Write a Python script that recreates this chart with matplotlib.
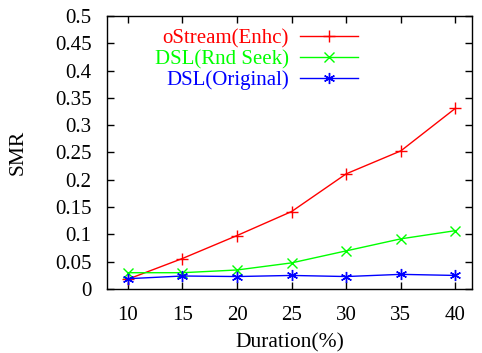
import matplotlib
matplotlib.use("Agg")
import matplotlib.pyplot as plt

# datos
duration = [10, 15, 20, 25, 30, 35, 40]
ostream_enhc = [0.018, 0.056, 0.098, 0.142, 0.211, 0.253, 0.331]
dsl_rnd_seek = [0.030, 0.030, 0.035, 0.048, 0.070, 0.092, 0.107]
dsl_original = [0.019, 0.024, 0.023, 0.025, 0.023, 0.027, 0.025]

yticks = [0, 0.05, 0.1, 0.15, 0.2, 0.25, 0.3, 0.35, 0.4, 0.45, 0.5]
ytick_labels = ["0", "0.05", "0.1", "0.15", "0.2", "0.25", "0.3", "0.35", "0.4", "0.45", "0.5"]

plt.rcParams["font.family"] = "Liberation Serif"

fig = plt.figure(figsize=(4.82, 3.53), dpi=100)
ax = fig.add_axes([0.222, 0.181, 0.757, 0.774])

ax.plot(duration, ostream_enhc, color="#ff0000", lw=1, marker="+", ms=8, mew=1, label="oStream(Enhc)")
ax.plot(duration, dsl_rnd_seek, color="#00ff00", lw=1, marker="x", ms=7, mew=1, label="DSL(Rnd Seek)")
ax.plot(duration, dsl_original, color="#0000ff", lw=1, marker=(6, 2, 0), ms=8, mew=1, label="DSL(Original)")

ax.set_xlim(8.1, 41.5)
ax.set_ylim(0, 0.5)
ax.set_xticks(duration)
ax.set_yticks(yticks)
ax.set_yticklabels(ytick_labels)
ax.tick_params(direction="in", top=True, right=True, labelsize=15, length=5, width=1)
ax.tick_params(axis="x", pad=12)
ax.tick_params(axis="y", pad=11)
for s in ax.spines.values():
    s.set_linewidth(1)

ax.set_xlabel("Duration(%)", fontsize=15.5, labelpad=6)
ax.set_ylabel("SMR", fontsize=15.5, labelpad=20)

leg = ax.legend(loc="upper left", bbox_to_anchor=(0.08, 1.02), frameon=False, markerfirst=False,
                handlelength=2.75, fontsize=15, labelspacing=0.05, handletextpad=0.55,
                labelcolor="linecolor")
for t in leg.get_texts():
    t.set_ha("right")

fig.savefig("out.png", dpi=100)
